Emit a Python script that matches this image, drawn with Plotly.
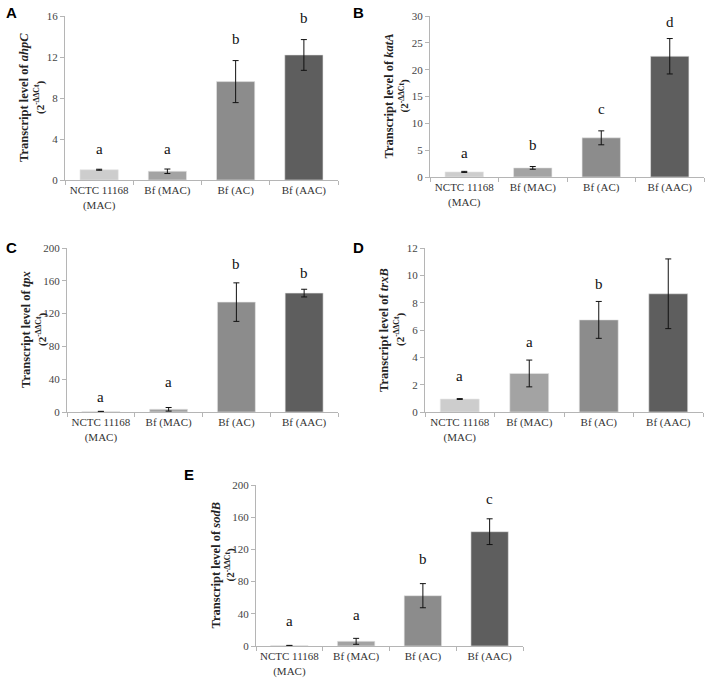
import plotly.graph_objects as go

W, H = 708, 683

categories = ["NCTC 11168<br>(MAC)", "Bf (MAC)", "Bf (AC)", "Bf (AAC)"]
colors = ["#cdcdcd", "#a3a3a3", "#8c8c8c", "#5e5e5e"]

# Panel A: ahpC
a_vals = [1.0, 0.85, 9.6, 12.2]
a_err = [0.05, 0.22, 2.05, 1.5]
a_letters = ["a", "a", "b", "b"]
a_letter_y = [3.0, 3.0, 13.8, 15.8]

# Panel B: katA
b_vals = [0.95, 1.7, 7.3, 22.5]
b_err = [0.1, 0.25, 1.3, 3.3]
b_letters = ["a", "b", "c", "d"]
b_letter_y = [4.4, 5.9, 12.7, 28.9]

# Panel C: tpx
c_vals = [0.5, 3.3, 134.0, 145.0]
c_err = [0.3, 2.2, 23.5, 4.7]
c_letters = ["a", "a", "b", "b"]
c_letter_y = [18.0, 36.0, 181.0, 169.0]

# Panel D: trxB
d_vals = [0.95, 2.82, 6.74, 8.65]
d_err = [0.03, 0.98, 1.35, 2.55]
d_letters = ["a", "a", "b", "c"]
d_letter_y = [2.6, 5.1, 9.4, 12.7]

# Panel E: sodB
e_vals = [0.5, 5.8, 62.5, 142.0]
e_err = [0.3, 3.7, 15.0, 16.0]
e_letters = ["a", "a", "b", "c"]
e_letter_y = [31.0, 38.0, 108.0, 182.0]

panels = [
    dict(letter="A", gene="ahpC", vals=a_vals, err=a_err, let=a_letters, ly=a_letter_y,
         rng=[0, 16], dtick=4, box=(65, 338, 16, 180)),
    dict(letter="B", gene="katA", vals=b_vals, err=b_err, let=b_letters, ly=b_letter_y,
         rng=[0, 30], dtick=5, box=(430, 704, 16, 177)),
    dict(letter="C", gene="tpx", vals=c_vals, err=c_err, let=c_letters, ly=c_letter_y,
         rng=[0, 200], dtick=40, box=(67, 338, 248, 412)),
    dict(letter="D", gene="trxB", vals=d_vals, err=d_err, let=d_letters, ly=d_letter_y,
         rng=[0, 12], dtick=2, box=(425, 703, 248, 412)),
    dict(letter="E", gene="sodB", vals=e_vals, err=e_err, let=e_letters, ly=e_letter_y,
         rng=[0, 200], dtick=40, box=(256, 523, 485, 646)),
]

fig = go.Figure()
serif = "Liberation Serif, Times New Roman, serif"
annotations = []

for i, p in enumerate(panels):
    n = "" if i == 0 else str(i + 1)
    xa, ya = "x" + n, "y" + n
    x0, x1, y0, y1 = p["box"]
    fig.add_trace(go.Bar(
        x=categories, y=p["vals"], xaxis=xa, yaxis=ya,
        marker=dict(color=colors, line=dict(color="#e6e6e6", width=0.6)),
        width=0.56,
        error_y=dict(type="data", array=p["err"], color="#111111", thickness=1, width=3),
        showlegend=False, hoverinfo="skip",
    ))
    for cat, lab, yv in zip(categories, p["let"], p["ly"]):
        annotations.append(dict(
            x=cat, y=yv, xref=xa, yref=ya, text=lab, showarrow=False,
            font=dict(family=serif, size=15, color="#111111"),
            xanchor="center", yanchor="middle",
        ))
    fig.layout["xaxis" + n] = dict(
        domain=[x0 / W, x1 / W], anchor=ya, type="category", automargin=False,
        showline=True, linecolor="#b5b5b5", linewidth=1,
        ticks="outside", tickson="boundaries", ticklen=4, tickcolor="#b5b5b5",
        tickfont=dict(family=serif, size=11, color="#333333"), tickangle=0,
        showgrid=False, zeroline=False, fixedrange=True,
    )
    fig.layout["yaxis" + n] = dict(
        domain=[1 - y1 / H, 1 - y0 / H], anchor=xa, range=p["rng"], dtick=p["dtick"],
        automargin=False,
        showline=True, linecolor="#b5b5b5", linewidth=1,
        ticks="outside", ticklen=4, tickcolor="#b5b5b5",
        tickfont=dict(family=serif, size=11, color="#444444"),
        showgrid=False, zeroline=False, fixedrange=True,
    )
    cy = 1 - (y0 + y1) / 2 / H
    annotations.append(dict(
        x=(x0 - 41) / W, y=cy, xref="paper", yref="paper", textangle=-90,
        text="<b>Transcript level of <i>" + p["gene"] + "</i></b>",
        showarrow=False, font=dict(family=serif, size=12.5, color="#222222"),
        xanchor="center", yanchor="middle",
    ))
    annotations.append(dict(
        x=(x0 - 26) / W, y=cy, xref="paper", yref="paper", textangle=-90,
        text="<b>(2<sup>-ΔΔCt</sup>)</b>",
        showarrow=False, font=dict(family=serif, size=11, color="#222222"),
        xanchor="center", yanchor="middle",
    ))
    lx = {"A": 4, "B": 351, "C": 4, "D": 351, "E": 182}[p["letter"]]
    ly = {"A": 12, "B": 12, "C": 247, "D": 247, "E": 474}[p["letter"]]
    annotations.append(dict(
        x=lx / W, y=1 - ly / H, xref="paper", yref="paper",
        text="<b>" + p["letter"] + "</b>", showarrow=False,
        font=dict(family="Liberation Sans, Arial, sans-serif", size=15, color="#000000"),
        xanchor="left", yanchor="middle",
    ))

fig.update_layout(
    width=W, height=H, margin=dict(l=0, r=0, t=0, b=0, autoexpand=False),
    paper_bgcolor="white", plot_bgcolor="white",
    annotations=annotations, bargap=0.44,
)

fig.write_html(
    "out.html",
    config={"displayModeBar": False, "staticPlot": True},
    post_script="document.body.style.margin='0';document.body.style.overflow='hidden';",
)
